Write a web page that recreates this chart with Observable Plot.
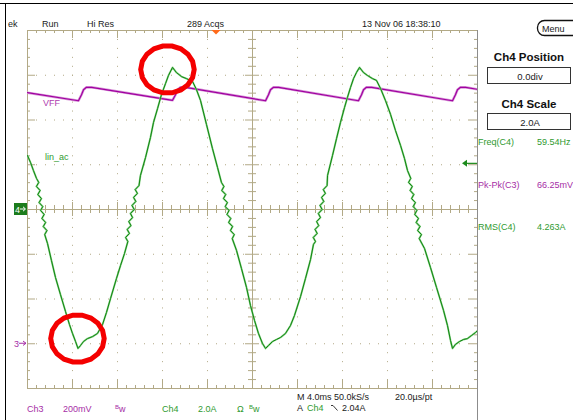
<!DOCTYPE html>
<html><head><meta charset="utf-8">
<script src="https://cdn.jsdelivr.net/npm/d3@7"></script>
<script src="https://cdn.jsdelivr.net/npm/@observablehq/plot@0.6"></script>
<style>
html,body{margin:0;padding:0;background:#fff;}
#wrap{position:relative;width:573px;height:420px;overflow:hidden;background:#fff;}
#wrap svg{position:absolute;left:0;top:0;}
</style></head><body><div id="wrap"></div>
<script>
// ---- scope settings ----
const timePerDivMs = 4;
const ch4AmpsPerDiv = 2, ch4OffsetDiv = 0;
const ch3mVPerDiv = 200, ch3OffsetDiv = -3;
const triggerTimeMs = 16.8, triggerLevelA = 2.04;

// ---- Ch4: lin_ac current (ms, A), one line per stretch of the trace ----
const ch4TimeMs = [
  0.00,0.27,0.53,0.80,
  1.00,0.79,1.12,0.92,1.24,1.03,1.36,1.16,1.48,1.28,1.61,1.40,1.73,1.53,
  1.78,2.13,2.49,2.93,3.38,3.73,4.00,4.27,4.49,
  4.71,4.98,5.33,5.78,6.22,6.67,7.02,7.38,7.91,8.27,8.62,
  8.92,8.72,9.06,8.86,9.20,9.00,9.34,9.15,9.49,9.29,9.63,9.43,9.77,9.57,9.91,
  10.04,10.49,10.93,11.20,11.56,11.91,12.27,12.53,12.89,
  13.24,13.69,14.13,14.67,15.02,15.38,15.91,16.44,16.89,17.24,
  17.46,17.27,17.62,17.42,17.77,17.57,17.92,17.73,18.07,17.88,18.23,18.04,18.38,18.20,
  18.58,19.02,19.47,19.82,20.18,20.53,20.89,21.16,
  21.42,21.78,22.13,22.49,22.93,23.38,23.73,24.27,24.71,25.16,25.42,
  25.60,25.40,25.75,25.56,25.89,25.70,26.04,25.85,26.19,26.00,26.34,26.14,26.48,26.29,26.63,
  26.67,27.11,27.47,27.82,28.18,28.44,28.71,28.98,29.24,29.51,
  29.87,30.22,30.67,31.02,31.38,31.82,32.27,32.71,33.16,33.51,33.78,
  34.07,33.87,34.20,34.01,34.34,34.14,34.48,34.28,34.61,34.42,34.75,34.55,34.89,34.68,35.02,34.82,
  35.29,35.82,36.36,36.98,37.33,37.60,37.78,
  38.04,38.40,38.76,39.11,39.47,39.82,40.00
];
const ch4CurrentA = [
  2.41,2.10,1.74,1.39,
  1.21,1.03,0.85,0.67,0.49,0.31,0.13,-0.04,-0.22,-0.40,-0.58,-0.76,-0.94,-1.12,
  -1.52,-2.28,-3.04,-3.80,-4.56,-5.14,-5.54,-5.90,-6.21,
  -6.08,-5.90,-5.77,-5.68,-5.54,-5.14,-4.60,-3.98,-3.08,-2.50,-1.97,
  -1.43,-1.25,-1.07,-0.89,-0.72,-0.54,-0.36,-0.18,0.00,0.18,0.36,0.54,0.72,0.89,1.07,
  1.52,2.32,3.22,3.89,4.51,5.14,5.63,5.99,6.35,
  6.12,5.94,5.85,5.72,5.36,4.87,3.80,2.73,1.88,1.21,
  1.03,0.85,0.67,0.49,0.31,0.13,-0.04,-0.22,-0.40,-0.58,-0.76,-0.94,-1.12,-1.30,
  -1.83,-2.64,-3.49,-4.29,-4.96,-5.54,-5.99,-6.21,
  -6.08,-5.90,-5.81,-5.72,-5.54,-5.18,-4.74,-3.89,-3.08,-2.23,-1.56,
  -1.43,-1.25,-1.07,-0.89,-0.72,-0.54,-0.36,-0.18,0.00,0.18,0.36,0.54,0.72,0.89,1.07,
  1.52,2.41,3.17,3.89,4.56,5.01,5.45,5.85,6.12,6.35,
  6.12,5.99,5.85,5.77,5.41,4.87,4.25,3.53,2.86,2.28,1.74,
  1.39,1.21,1.03,0.85,0.67,0.49,0.31,0.13,-0.04,-0.22,-0.40,-0.58,-0.76,-0.94,-1.12,-1.30,
  -1.74,-2.59,-3.49,-4.51,-5.18,-5.85,-6.21,
  -6.03,-5.90,-5.81,-5.77,-5.63,-5.50,-5.41
];

// ---- Ch3: VFF (ms, mV) ----
const ch3TimeMs = [0.00,4.53,4.80,4.98,5.24,5.69,12.89,13.16,13.33,13.60,14.04,21.16,21.42,21.60,21.87,22.31,29.42,29.69,29.87,30.13,30.58,37.78,38.04,38.22,38.49,38.93,40.00];
const ch3VoltageMv = [1122,1086,1113,1135,1146,1146,1088,1113,1135,1146,1146,1086,1113,1135,1146,1146,1086,1113,1135,1146,1146,1086,1113,1135,1146,1146,1137];

// ---- hand-drawn highlight circles (ms, A) ----
const highlightTimeMs = [12.44, 4.44];
const highlightCurrentA = [6.26, -5.77];

// ---- readout texts ----
const headerLabels = ["ek", "Run", "Hi Res", "289 Acqs", "13 Nov 06 18:38:10"];
const panelTitles = ["Ch4 Position", "Ch4 Scale"];
const panelValues = ["0.0div", "2.0A"];
const measurementNames = ["Freq(C4)", "Pk-Pk(C3)", "RMS(C4)"];
const measurementValues = ["59.54Hz", "66.25mV", "4.263A"];
const traceLabels = ["VFF", "lin_ac"];

// ---- build ----
const W = 573, H = 420;
const tan = "#b2a986";
const green = "#2f9a2f", purple = "#a62ea6";
const nDivX = 10, nDivY = 8;
const tMax = nDivX * timePerDivMs;
const n4 = Math.min(ch4TimeMs.length, ch4CurrentA.length);
const ch4 = ch4TimeMs.slice(0, n4).map((t, i) => ({t, a: ch4CurrentA[i]}));
const ch3 = ch3TimeMs.map((t, i) => ({t, mv: ch3VoltageMv[i]}));
const ch4Y = d => d.a / ch4AmpsPerDiv + ch4OffsetDiv;
const ch3Y = d => d.mv / ch3mVPerDiv + ch3OffsetDiv;
const highlights = highlightTimeMs.map((t, i) => ({t, a: highlightCurrentA[i]}));

const mL = 27, mR = 96, mT = 30, mB = 32;
const pxX = (W - mL - mR) / tMax;          // px per ms
const pxY = (H - mT - mB) / nDivY;         // px per div
const xMinor = d3.range(0, nDivX * 5 + 1).map(i => i * timePerDivMs / 5);
const yMinor = d3.range(-nDivY * 5 / 2, nDivY * 5 / 2 + 1).map(i => i / 5);
const isMajX = t => Math.abs(t / timePerDivMs - Math.round(t / timePerDivMs)) < 1e-6;
const isMajY = v => Math.abs(v - Math.round(v)) < 1e-6;
const majX = d3.range(1, nDivX).map(i => i * timePerDivMs).filter(t => t !== tMax / 2);
const majY = d3.range(-nDivY / 2 + 1, nDivY / 2).filter(v => v !== 0);
const yTop = nDivY / 2, yBot = -nDivY / 2;
const bLen = d => (d ? 8 : 3);     // border tick length px
const cLen = d => (d ? 7 : 4);     // center tick half-length px

const ellipseSymbol = {
  draw(ctx, size) {
    const r = Math.sqrt(size / Math.PI);
    const n = 18;
    for (let i = 0; i <= n; i++) {
      const a = i / n * 2 * Math.PI;
      const x = 1.07 * r * Math.cos(a), y = 0.95 * r * Math.sin(a);
      if (i === 0) ctx.moveTo(x, y); else ctx.lineTo(x, y);
    }
    ctx.closePath();
  }
};

const plot = Plot.plot({
  width: W, height: H,
  marginLeft: mL, marginRight: mR, marginTop: mT, marginBottom: mB,
  x: {domain: [0, tMax], axis: null},
  y: {domain: [yBot, yTop], axis: null},
  style: {background: "transparent", overflow: "visible"},
  marks: [
    Plot.ruleX(majX, {stroke: tan, strokeDasharray: "1 7.95"}),
    Plot.ruleY(majY, {stroke: tan, strokeDasharray: "1 8"}),
    Plot.ruleX([tMax / 2], {stroke: tan}),
    Plot.ruleY([0], {stroke: tan}),
    Plot.frame({stroke: tan}),
    // border ticks
    Plot.ruleX(xMinor, {x: d => d, y1: yTop, y2: d => yTop - bLen(isMajX(d)) / pxY, stroke: tan}),
    Plot.ruleX(xMinor, {x: d => d, y1: yBot, y2: d => yBot + bLen(isMajX(d)) / pxY, stroke: tan}),
    Plot.ruleY(yMinor, {y: d => d, x1: 0, x2: d => bLen(isMajY(d)) / pxX, stroke: tan}),
    Plot.ruleY(yMinor, {y: d => d, x1: tMax, x2: d => tMax - bLen(isMajY(d)) / pxX, stroke: tan}),
    // center cross ticks
    Plot.ruleX(xMinor, {x: d => d, y1: d => -cLen(isMajX(d)) / pxY, y2: d => cLen(isMajX(d)) / pxY, stroke: tan}),
    Plot.ruleY(yMinor, {y: d => d, x1: d => tMax / 2 - cLen(isMajY(d)) / pxX, x2: d => tMax / 2 + cLen(isMajY(d)) / pxX, stroke: tan}),
    // traces
    Plot.line(ch3, {x: "t", y: ch3Y, stroke: "#d99ad9", strokeWidth: 2.6, clip: true}),
    Plot.line(ch3, {x: "t", y: ch3Y, stroke: "#a000a0", strokeWidth: 1.2, clip: true}),
    Plot.line(ch4, {x: "t", y: ch4Y, stroke: "#8ad38a", strokeWidth: 1.9, clip: true}),
    Plot.line(ch4, {x: "t", y: ch4Y, stroke: "#118511", strokeWidth: 1, clip: true}),
    // highlights
    Plot.dot(highlights, {x: "t", y: ch4Y, r: 25, symbol: ellipseSymbol, fill: "none", stroke: "#f40000", strokeWidth: 5})
  ]
});
const wrap = document.getElementById("wrap");
wrap.append(plot);
const xs = plot.scale("x"), ys = plot.scale("y");

const ov = d3.select(wrap).append("svg")
  .attr("width", W).attr("height", H)
  .style("font-family", "'Liberation Sans', Arial, sans-serif")
  .style("font-size", "9px");

// frame lines of the screenshot
ov.append("line").attr("x1", 0).attr("x2", W).attr("y1", 3.5).attr("y2", 3.5).attr("stroke", "#000");
ov.append("line").attr("x1", 5.5).attr("x2", 5.5).attr("y1", 3).attr("y2", H).attr("stroke", "#000");
const xRight = xs.apply(tMax);
ov.append("line").attr("x1", xRight + 0.5).attr("x2", xRight + 0.5).attr("y1", ys.apply(yTop)).attr("y2", H).attr("stroke", "#8c8c8c");

const txt = (x, y, s, fill = "#1a1a1a", opts = {}) => {
  const t = ov.append("text").attr("x", x).attr("y", y).attr("fill", fill).text(s);
  if (opts.anchor) t.attr("text-anchor", opts.anchor);
  if (opts.size) t.style("font-size", opts.size + "px");
  if (opts.weight) t.style("font-weight", opts.weight);
  return t;
};

// header
const headerX = [8, 42, 87, 187, 362];
headerLabels.forEach((s, i) => txt(headerX[i], 27, s));
ov.append("rect").attr("x", 537.5).attr("y", 20.5).attr("width", 50).attr("height", 15).attr("rx", 7)
  .attr("fill", "#fff").attr("stroke", "#111").attr("stroke-width", 1.3);
txt(542, 31.5, "Menu");

// right panel
const titleY = [61, 108], boxY = [67.5, 113.5];
panelTitles.forEach((s, i) => {
  txt(529, titleY[i], s, "#111", {anchor: "middle", size: 11.5, weight: "bold"});
  ov.append("rect").attr("x", 487.5).attr("y", boxY[i]).attr("width", 83).attr("height", 16)
    .attr("fill", "#fff").attr("stroke", "#333");
  txt(530, boxY[i] + 12.5, panelValues[i], "#222", {anchor: "middle", size: 9.5});
});
const measY = [145, 188, 230], measCol = [green, purple, green];
measurementNames.forEach((s, i) => {
  txt(478, measY[i], s, measCol[i]);
  txt(537, measY[i], measurementValues[i], measCol[i]);
});

// bottom readouts
txt(27, 412, "Ch3", purple); txt(63, 412, "200mV", purple);
const bw = (x, col) => {
  const t = ov.append("text").attr("x", x).attr("y", 412).attr("fill", col);
  t.append("tspan").attr("dy", -3).style("font-size", "6px").text("B");
  t.append("tspan").attr("dy", 3).text("w");
};
bw(115, purple);
txt(162, 412, "Ch4", green); txt(198, 412, "2.0A", green); txt(237, 412, "Ω", green); bw(249, green);
txt(297, 400, "M 4.0ms 50.0kS/s"); txt(395, 400, "20.0µs/pt");
txt(297, 411, "A"); txt(307, 411, "Ch4", green);
ov.append("path").attr("d", "M331,405.5 L333,405.5 L337.5,410.5").attr("fill", "none").attr("stroke", "#222").attr("stroke-width", 0.9);
txt(342, 411, "2.04A");

// trace labels
const vffY = ys.apply(ch3Y({mv: ch3VoltageMv[0]}));
txt(43, vffY + 14, traceLabels[0], "#b040b0");
txt(45, 160, traceLabels[1], green);

// channel ground markers
const y4 = ys.apply(ch4OffsetDiv), y3 = ys.apply(ch3OffsetDiv), x0 = xs.apply(0);
ov.append("rect").attr("x", x0 - 13).attr("y", y4 - 6).attr("width", 13).attr("height", 12).attr("fill", "#1c7c1c");
txt(x0 - 12, y4 + 3.5, "4", "#fff", {size: 9});
ov.append("path").attr("d", `M${x0-7},${y4}h5 M${x0-4},${y4-2.2}l2.5,2.2l-2.5,2.2`).attr("stroke", "#fff").attr("fill", "none").attr("stroke-width", 1);
txt(x0 - 13, y3 + 3.5, "3", purple, {size: 9});
ov.append("path").attr("d", `M${x0-8},${y3}h7 M${x0-4},${y3-2.2}l3,2.2l-3,2.2`).attr("stroke", purple).attr("fill", "none").attr("stroke-width", 1);

// trigger markers
const tx = xs.apply(triggerTimeMs), ty = ys.apply(triggerLevelA / ch4AmpsPerDiv + ch4OffsetDiv), yT = ys.apply(yTop);
ov.append("path").attr("d", `M${tx-4.5},${yT} L${tx+4.5},${yT} L${tx},${yT+4.5} Z`).attr("fill", "#ff6a1a");
ov.append("path").attr("d", `M${xRight},${ty} H${xRight-12}`).attr("stroke", "#1c8a1c").attr("stroke-width", 1.2);
ov.append("path").attr("d", `M${xRight-15},${ty} l5,-3.5 v7 Z`).attr("fill", "#1c8a1c");
</script>
</body></html>
